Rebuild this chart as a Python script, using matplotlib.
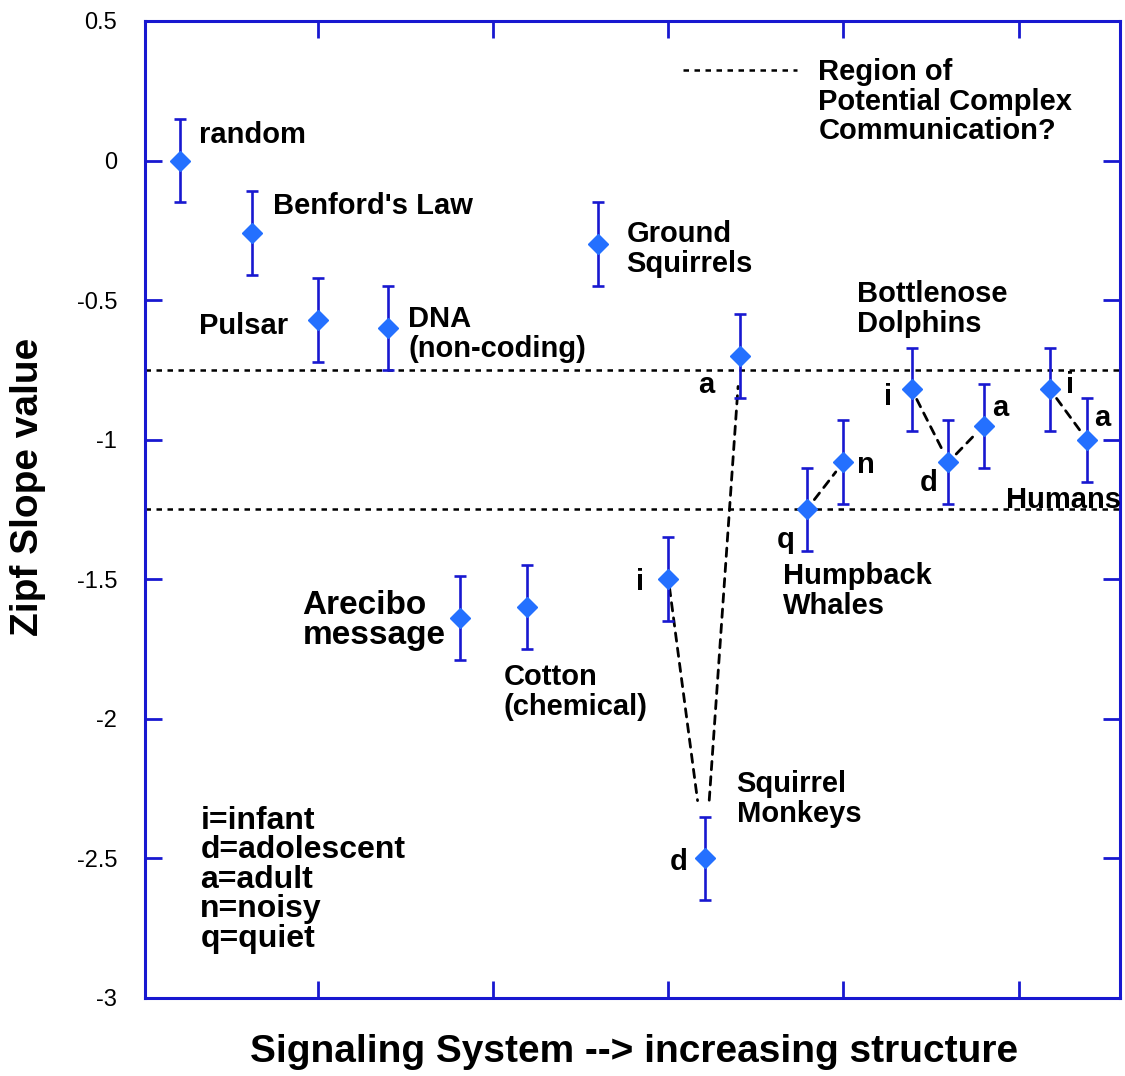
"""Zipf slope of signaling systems, ordered by increasing structure."""

import matplotlib

matplotlib.use("Agg")
import matplotlib.pyplot as plt
from matplotlib.lines import Line2D

plt.rcParams["font.family"] = ["Liberation Sans", "DejaVu Sans"]

# position along the "increasing structure" axis, Zipf slope and its error
point_x = [0.21, 0.62, 1.0, 1.4, 1.81, 2.19, 2.6, 3.0, 3.21, 3.41,
           3.79, 4.0, 4.39, 4.6, 4.8, 5.18, 5.39]
slope = [0.0, -0.26, -0.57, -0.60, -1.64, -1.60, -0.30, -1.50, -2.50, -0.70,
         -1.25, -1.08, -0.82, -1.08, -0.95, -0.82, -1.00]
slope_err = [0.15, 0.15, 0.15, 0.15, 0.15, 0.15, 0.15, 0.15, 0.15, 0.15,
             0.15, 0.15, 0.15, 0.15, 0.15, 0.15, 0.15]

# groups joined by dashed lines (indices into the arrays above)
connected = [(7, 8), (8, 9), (10, 11), (12, 13), (13, 14), (15, 16)]
connector_shrink = [(6, 42), (42, 22), (9, 9), (8, 8), (8, 8), (8, 8)]

region_bounds = [-0.75, -1.25]
y_ticks = [0.5, 0, -0.5, -1, -1.5, -2, -2.5, -3]
y_tick_labels = ["0.5", "0", "-0.5", "-1", "-1.5", "-2", "-2.5", "-3"]
x_ticks = [1, 2, 3, 4, 5]

BLUE = "#1818d0"
MARKER = "#2470ff"

# (text, x, y, ha) -- annotations in data coords
labels = [
    ("random", 0.32, 0.092, "left"),
    ("Benford's Law", 0.743, -0.163, "left"),
    ("Pulsar", 0.32, -0.593, "left"),
    ("DNA\n(non-coding)", 1.514, -0.621, "left"),
    ("Ground\nSquirrels", 2.76, -0.317, "left"),
    ("Bottlenose\nDolphins", 4.08, -0.532, "left"),
    ("Cotton\n(chemical)", 2.057, -1.904, "left"),
    ("Squirrel\nMonkeys", 3.389, -2.287, "left"),
    ("Humpback\nWhales", 3.657, -1.542, "left"),
    ("Humans", 4.926, -1.216, "left"),
    ("Region of\nPotential Complex\nCommunication?", 3.857, 0.21, "left"),
    ("a", 3.217, -0.804, "center"),
    ("i", 2.84, -1.51, "center"),
    ("d", 3.057, -2.513, "center"),
    ("q", 3.669, -1.359, "center"),
    ("n", 4.126, -1.091, "center"),
    ("i", 4.257, -0.847, "center"),
    ("d", 4.486, -1.155, "center"),
    ("a", 4.897, -0.886, "center"),
    ("i", 5.297, -0.804, "center"),
    ("a", 5.48, -0.922, "center"),
]

fig = plt.figure(figsize=(11.25, 10.76), dpi=100)
ax = fig.add_axes([0.1289, 0.0725, 0.8667, 0.908])

for y in region_bounds:
    ax.axhline(y, color="black", lw=1.8, linestyle=(0, (2.2, 2.2)), zorder=1)

for (a, b), (sa, sb) in zip(connected, connector_shrink):
    ax.annotate(
        "",
        xy=(point_x[b], slope[b]),
        xytext=(point_x[a], slope[a]),
        arrowprops=dict(arrowstyle="-", color="black", lw=2.0,
                        linestyle=(0, (3, 2.5)), shrinkA=sa, shrinkB=sb),
        zorder=2,
    )

ax.errorbar(
    point_x, slope, yerr=slope_err, fmt="D", ms=10,
    mfc=MARKER, mec=MARKER, ecolor=BLUE, elinewidth=1.9,
    capsize=4, capthick=1.9, zorder=3,
)

for text, x, y, ha in labels:
    ax.text(x, y, text, ha=ha, va="center", fontsize=21, fontweight="bold",
            linespacing=1.07)

ax.text(0.909, -1.649, "Arecibo\nmessage", ha="left", va="center",
        fontsize=24, fontweight="bold", linespacing=0.95)
ax.text(0.326, -2.577, "i=infant\nd=adolescent\na=adult\nn=noisy\nq=quiet",
        ha="left", va="center", fontsize=23, fontweight="bold", linespacing=0.98)

# legend sample for the dotted region lines
ax.add_line(Line2D([0.552, 0.669], [0.950, 0.950], transform=ax.transAxes,
                   color="black", lw=1.8, linestyle=(0, (2.2, 2.2))))

ax.set_xlim(0.01, 5.58)
ax.set_ylim(-3, 0.5)
ax.set_xticks(x_ticks)
ax.set_xticklabels([])
ax.set_yticks(y_ticks)
ax.set_yticklabels(y_tick_labels)
ax.tick_params(direction="in", length=12, width=2, color=BLUE,
               top=True, right=True, labelsize=17, pad=20)
for spine in ax.spines.values():
    spine.set_color(BLUE)
    spine.set_linewidth(2.2)

fig.text(28 / 1125, 1 - 487 / 1076, "Zipf Slope value", rotation=90,
         ha="center", va="center", fontsize=28, fontweight="bold")
fig.text(634 / 1125, 1 - 1052 / 1076, "Signaling System --> increasing structure",
         ha="center", va="center", fontsize=28, fontweight="bold")

fig.savefig("out.png", dpi=100)
